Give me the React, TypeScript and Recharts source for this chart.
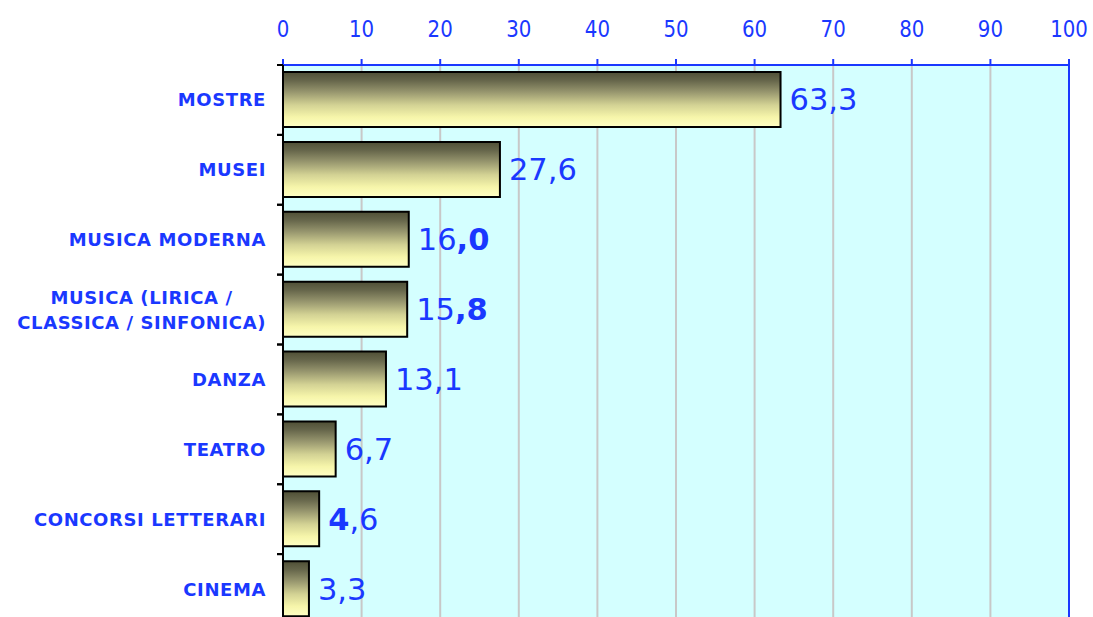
import React from "react";
import { BarChart, Bar, XAxis, YAxis, CartesianGrid, ReferenceLine, LabelList } from "recharts";

const categories = [
  "MOSTRE",
  "MUSEI",
  "MUSICA MODERNA",
  "MUSICA (LIRICA /\nCLASSICA / SINFONICA)",
  "DANZA",
  "TEATRO",
  "CONCORSI LETTERARI",
  "CINEMA",
];
const values = [63.3, 27.6, 16.0, 15.8, 13.1, 6.7, 4.6, 3.3];
// character ranges of each value label drawn in bold [from, to)
const labelBold: [number, number][] = [[0, 0], [0, 0], [2, 4], [2, 4], [0, 0], [0, 0], [0, 1], [0, 0]];
const xTicks = [0, 10, 20, 30, 40, 50, 60, 70, 80, 90, 100];

const data = categories.map((name, i) => ({ name, value: values[i], bold: labelBold[i] }));

const BLUE = "#1a38ff";
const FONT = "'DejaVu Sans', Verdana, sans-serif";
const CAT_FONT_SIZE = 18;
const CAT_LS = 0.6;

let ctx: CanvasRenderingContext2D | null = null;
function measure(text: string, font: string): number {
  if (!ctx) ctx = document.createElement("canvas").getContext("2d");
  if (!ctx) return text.length * 10;
  ctx.font = font;
  return ctx.measureText(text).width + text.length * CAT_LS;
}

const ValueTick = (props: any) => {
  const { x, y, payload } = props;
  return (
    <text
      transform={`translate(${x},${y}) scale(0.86,1)`}
      x={0}
      y={0}
      textAnchor="middle"
      fill={BLUE}
      fontFamily={FONT}
      fontSize={23}
    >
      {payload.value}
    </text>
  );
};

const CategoryTick = (props: any) => {
  const { x, y, payload } = props;
  const half = payload.offset ?? 35;
  const lines = String(payload.value).split("\n");
  const font = `bold ${CAT_FONT_SIZE}px ${FONT}`;
  const widths = lines.map((l) => measure(l, font));
  const maxW = Math.max(...widths);
  const right = x - 11;
  const center = right - maxW / 2;
  const lh = 25;
  const startY = y - ((lines.length - 1) * lh) / 2;
  return (
    <g>
      <line x1={x} y1={y - half} x2={x + 6} y2={y - half} stroke="#000" strokeWidth={2} />
      <line x1={x} y1={y + half} x2={x + 6} y2={y + half} stroke="#000" strokeWidth={2} />
      {lines.map((l, i) => (
        <text
          key={i}
          x={lines.length > 1 ? center : right}
          y={startY + i * lh}
          dy="0.36em"
          textAnchor={lines.length > 1 ? "middle" : "end"}
          fill={BLUE}
          fontFamily={FONT}
          fontWeight="bold"
          fontSize={CAT_FONT_SIZE}
          letterSpacing={CAT_LS}
        >
          {l}
        </text>
      ))}
    </g>
  );
};

const ValueLabel = (props: any) => {
  const { x, y, width, height, value, index } = props;
  const s = Number(value).toFixed(1).replace(".", ",");
  const [b0, b1] = data[index].bold;
  const parts = [
    { t: s.slice(0, b0), b: false },
    { t: s.slice(b0, b1), b: true },
    { t: s.slice(b1), b: false },
  ].filter((p) => p.t.length > 0);
  return (
    <text
      x={x + width + 9}
      y={y + height / 2}
      dy="0.36em"
      fill={BLUE}
      fontFamily={FONT}
      fontSize={30.5}
    >
      {parts.map((p, i) => (
        <tspan key={i} fontWeight={p.b ? "bold" : "normal"}>
          {p.t}
        </tspan>
      ))}
    </text>
  );
};

export default function App() {
  return (
    <div style={{ position: "absolute", left: 0, top: 0, width: 1093, height: 617, overflow: "hidden", background: "#fff" }}>
      <BarChart
        width={1093}
        height={624}
        data={data}
        layout="vertical"
        margin={{ top: 0, right: 24, left: 0, bottom: 0 }}
      >
        <defs>
          <linearGradient id="barGrad" x1="0" y1="0" x2="0" y2="1">
            <stop offset="0" stopColor="#4f4f36" />
            <stop offset="0.15" stopColor="#65654a" />
            <stop offset="0.35" stopColor="#94936c" />
            <stop offset="0.6" stopColor="#d3d294" />
            <stop offset="0.82" stopColor="#f6f5aa" />
            <stop offset="1" stopColor="#ffffc4" />
          </linearGradient>
        </defs>
        <CartesianGrid horizontal={false} stroke="#c8c8c8" strokeWidth={2} fill="#d4ffff" />
        <XAxis
          type="number"
          orientation="top"
          domain={[0, 100]}
          ticks={xTicks}
          height={65}
          axisLine={{ stroke: BLUE, strokeWidth: 2 }}
          tickLine={{ stroke: BLUE, strokeWidth: 2 }}
          tickSize={6}
          tickMargin={22}
          tick={<ValueTick />}
        />
        <YAxis
          type="category"
          dataKey="name"
          width={283}
          axisLine={{ stroke: "#000", strokeWidth: 2 }}
          tickLine={false}
          tickSize={6}
          tickMargin={0}
          interval={0}
          tick={<CategoryTick />}
        />
        <ReferenceLine x={100} stroke={BLUE} strokeWidth={2} />
        <Bar dataKey="value" barSize={55} fill="url(#barGrad)" stroke="#000" strokeWidth={2} isAnimationActive={false}>
          <LabelList dataKey="value" content={<ValueLabel />} />
        </Bar>
      </BarChart>
    </div>
  );
}
